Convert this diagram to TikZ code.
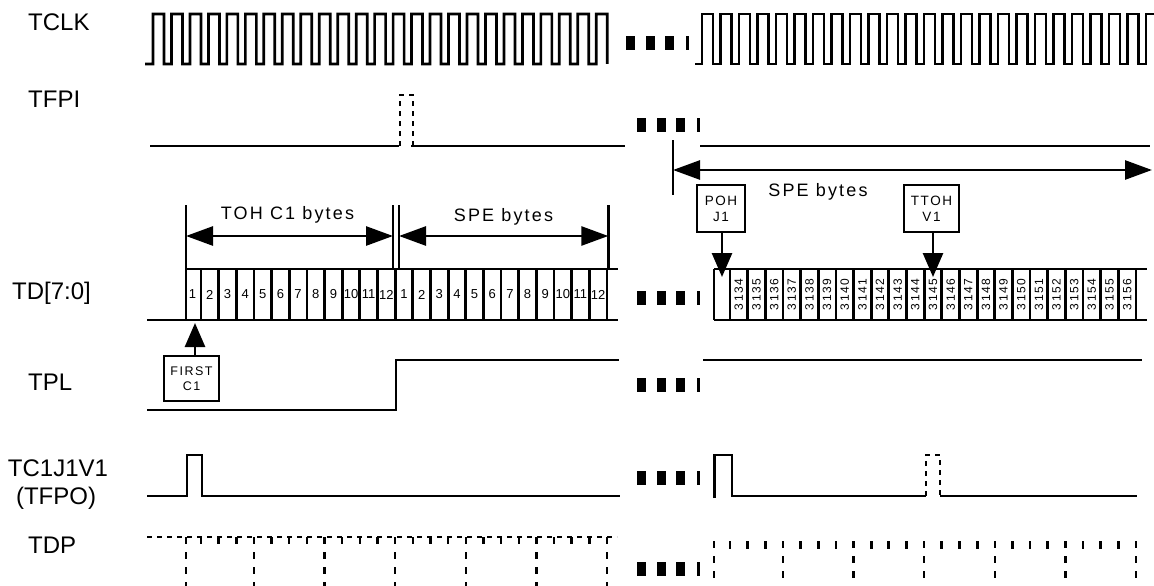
\documentclass[tikz,border=0pt]{standalone}
\usepackage{fontspec}
\setmainfont{Liberation Sans}[LetterSpace=12]
\newfontfamily\plainsans{Liberation Sans}
\usetikzlibrary{arrows.meta}
\tikzset{
  wave/.style={line width=2.7pt, line join=miter},
  dwave/.style={line width=2.4pt, dash pattern=on 5pt off 5pt},
  vdash/.style={line width=2.4pt, dash pattern=on 7pt off 8pt},
  sig/.style={inner sep=0pt, font=\plainsans\fontsize{24}{28}\selectfont},
  tag/.style={draw, line width=2.4pt, inner sep=0pt, align=center, font=\fontsize{13.5}{16}\selectfont},
  num/.style={inner sep=0pt, font=\plainsans\fontsize{13}{15}\selectfont},
  vnum/.style={inner sep=0pt, rotate=90, font=\fontsize{12}{14}\selectfont},
  lbl/.style={inner sep=0pt, font=\fontsize{18}{20}\selectfont},
  dim/.style={line width=2.7pt, {Triangle[length=27pt,width=19pt]}-{Triangle[length=27pt,width=19pt]}},
  ptr/.style={line width=2.7pt, -{Triangle[length=24pt,width=20pt]}},
  dimmark/.style={line width=2.7pt},
  bytebox/.style={line width=2.8pt},
  gapmark/.pic={\fill (0,-7) rectangle (9,7); \fill (19.5,-7) rectangle (28.5,7);
                \fill (39,-7) rectangle (48,7); \fill (60,-7) rectangle (62.5,7);}
}
\begin{document}
\begin{tikzpicture}[x=1pt,y=-1pt]
\useasboundingbox (0,0) rectangle (1154,586);
% signal names
\node[sig, anchor=west] (nclk) at (28,22) {TCLK};
\node[sig, anchor=west] (nfpi) at (28,99) {TFPI};
\node[sig, anchor=west] (ntd) at (12,293) {TD[7:0]};
\node[sig, anchor=west] (ntpl) at (28,382) {TPL};
\node[sig] (nc1) at (58,468) {TC1J1V1};
\node[sig] (nfpo) at (56,498) {(TFPO)};
\node[sig, anchor=west] (ntdp) at (28,545) {TDP};

% TCLK
\draw[wave] (145,64) -- (153,64)
  \foreach \i in {0,...,23}{ -- ({153+18.47*\i},14) -- ({164+18.47*\i},14) -- ({164+18.47*\i},64) -- ({171.47+18.47*\i},64)}
  -- (596.3,14) -- (607.3,14) -- (607.3,64);
\draw[wave] (695,64) -- (702,64)
  \foreach \i in {0,...,23}{ -- ({702+18.5*\i},14) -- ({713+18.5*\i},14) -- ({713+18.5*\i},64) -- ({720.5+18.5*\i},64)}
  -- (1146,14) -- (1154,14);
\pic at (626,43) {gapmark};

% TFPI
\draw[wave] (150,146) -- (399,146);
\draw[dwave] (400,146) -- (400,95) -- (413,95) -- (413,146);
\draw[wave] (411,146) -- (625,146);
\pic at (637,125) {gapmark};
\draw[wave] (700,146) -- (1150,146);
\coordinate (spel) at (673,170);
\coordinate (sper) at (1152,170);
\draw[dimmark] (673,140) -- (673,195);
\draw[dim] (spel) -- (sper);
\node[lbl] (spe2) at (818,192) {SPE bytes};

% TD left
\coordinate (tohl) at (186,236);
\coordinate (tohr) at (393,236);
\coordinate (spl) at (399,236);
\coordinate (spr) at (608.3,236);
\draw[dimmark] (186,205) -- (186,269);
\draw[dimmark] (393,205) -- (393,269);
\draw[dimmark] (399,205) -- (399,269);
\draw[dimmark] (608.3,205) -- (608.3,269);
\draw[dim] (tohl) -- (tohr);
\draw[dim] (spl) -- (spr);
\node[lbl] (toh) at (287.5,215) {TOH C1 bytes};
\node[lbl] (spe1) at (503.5,217) {SPE bytes};
\draw[bytebox] (147,320) -- (618,320);
\draw[bytebox] (186,269) -- (618,269);
\draw[line width=1.8pt] (186,269) -- (186,320);
\foreach \i in {0,...,23} \draw[bytebox] ({201+17.65*\i},269) -- ++(0,51);
\node[num] at (192.5,294.5) {1};
\foreach \j [evaluate=\j as \n using {int(mod(\j,12)+1)}] in {1,...,23}
  \node[num] at ({201+17.65*(\j-0.5)},294.5) {\n};
\pic at (637,298) {gapmark};

% TD right
\draw[bytebox] (714,269) -- (1147,269);
\draw[bytebox] (714,320) -- (1147,320);
\draw[bytebox] (714,269) -- (714,320);
\foreach \k in {0,...,23} \draw[bytebox] ({730+17.65*\k},269) -- ++(0,51);
\foreach \k [evaluate=\k as \n using {int(3134+\k)}] in {0,...,22}
  \node[vnum] at ({730+17.65*(\k+0.5)},294.5) {\n};

% pointer boxes
\node[tag, minimum width=48pt, minimum height=47pt] (poh) at (721,208.5) {POH\\J1};
\node[tag, minimum width=55pt, minimum height=47pt] (ttoh) at (931.5,208.5) {TTOH\\V1};
\node[tag, minimum width=55pt, minimum height=45pt, font=\fontsize{12.5}{15}\selectfont] (first) at (191.5,378.5) {FIRST\\C1};
\coordinate (pohtip) at (722,277);
\coordinate (ttohtip) at (933,277);
\coordinate (firsttip) at (195,323);
\draw[ptr] (poh.south -| pohtip) -- (pohtip);
\draw[ptr] (ttoh.south -| ttohtip) -- (ttohtip);
\draw[ptr] (first.north -| firsttip) -- (firsttip);

% TPL
\draw[wave] (147,410) -- (396,410) -- (396,360) -- (619,360);
\pic at (637,385) {gapmark};
\draw[wave] (703,360) -- (1142,360);

% TC1J1V1
\draw[wave] (147,496) -- (187,496) -- (187,455) -- (202,455) -- (202,496) -- (620,496);
\pic at (637,478) {gapmark};
\draw[wave] (714.5,498) -- (714.5,455) -- (732,455) -- (732,496) -- (926,496);
\draw[dwave] (926,496) -- (926,455) -- (940,455) -- (940,496);
\draw[wave] (940,496) -- (1137,496);

% TDP
\draw[dwave] (147,537) -- (617,537);
\draw[vdash] (186,537) -- (186,586);
\foreach \i in {0,...,23}{
  \pgfmathtruncatemacro\r{mod(\i,4)}
  \ifnum\r=3
    \draw[vdash] ({201+17.65*\i},537) -- ++(0,49);
  \else
    \draw[line width=2.4pt] ({201+17.65*\i},537) -- ++(0,7);
  \fi}
\pic at (637,569) {gapmark};
\draw[vdash] (714,541) -- (714,586);
\foreach \k in {0,...,23}{
  \pgfmathtruncatemacro\r{mod(\k,4)}
  \ifnum\r=3
    \draw[vdash] ({730+17.65*\k},541) -- ++(0,45);
  \else
    \draw[line width=2.8pt] ({730+17.65*\k},541) -- ++(0,8);
  \fi}
\end{tikzpicture}
\end{document}
